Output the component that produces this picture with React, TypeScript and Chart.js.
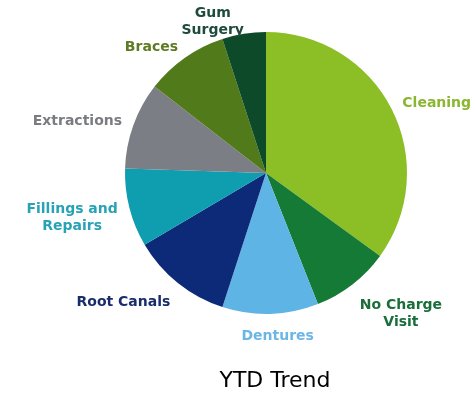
import React, { useEffect, useRef } from "react";
import { Chart, registerables } from "chart.js";

Chart.register(...registerables);

const categories = [
  "Cleaning",
  "No Charge\nVisit",
  "Dentures",
  "Root Canals",
  "Fillings and\nRepairs",
  "Extractions",
  "Braces",
  "Gum\nSurgery",
];
const values = [35, 9, 11, 11.5, 9, 10, 9.5, 5];
const sliceColors = [
  "#8cbf26",
  "#157a36",
  "#5fb4e6",
  "#0d2a78",
  "#0f9db0",
  "#7b7f85",
  "#517a1a",
  "#0d4a2a",
];
const labelColors = [
  "#8ab630",
  "#1a6e3a",
  "#6cb6e6",
  "#1a2d6b",
  "#27a3b5",
  "#7a7c80",
  "#5e7a23",
  "#1e4b3c",
];
const titleText = "YTD Trend";

const LABEL_FONT = 'bold 14px "DejaVu Sans"';
const LINE_H = 17;
const GAP = 12;

const outsideLabels = {
  id: "outsideLabels",
  afterDatasetsDraw(chart: any) {
    const ctx = chart.ctx;
    const meta = chart.getDatasetMeta(0);
    ctx.save();
    ctx.font = LABEL_FONT;
    ctx.textAlign = "center";
    ctx.textBaseline = "middle";
    meta.data.forEach((arc: any, i: number) => {
      const p = arc.getProps(["x", "y", "startAngle", "endAngle", "outerRadius"], true);
      const mid = (p.startAngle + p.endAngle) / 2;
      const ux = Math.cos(mid);
      const uy = Math.sin(mid);
      const ax = p.x + (p.outerRadius + GAP) * ux;
      const ay = p.y + (p.outerRadius + GAP) * uy;
      const lines = String(categories[i]).split("\n");
      const w = Math.max(...lines.map((l) => ctx.measureText(l).width));
      const h = lines.length * LINE_H;
      const fx = Math.max(-1, Math.min(1, ux * 6));
      const fy = uy > 0 ? Math.min(1.2, uy * 1.5) : 0;
      const cx = ax + (fx * w) / 2;
      const cy = ay + (fy * h) / 2;
      ctx.fillStyle = labelColors[i];
      lines.forEach((l, k) => {
        ctx.fillText(l, cx, cy - h / 2 + LINE_H / 2 + k * LINE_H);
      });
    });
    // title below the pie
    const area = chart.chartArea;
    ctx.font = '22px "DejaVu Sans"';
    ctx.fillStyle = "#000000";
    ctx.textAlign = "center";
    ctx.textBaseline = "middle";
    ctx.fillText(titleText, (area.left + area.right) / 2 + 9, area.bottom + 67);
    ctx.restore();
  },
};

export default function App() {
  const ref = useRef<HTMLCanvasElement | null>(null);
  useEffect(() => {
    document.body.style.margin = "0";
    const chart = new Chart(ref.current as HTMLCanvasElement, {
      type: "pie",
      data: {
        labels: categories,
        datasets: [
          {
            data: values,
            backgroundColor: sliceColors,
            borderWidth: 0,
          },
        ],
      },
      options: {
        responsive: false,
        animation: false,
        layout: { padding: { left: 125, right: 68, top: 32, bottom: 80 } },
        plugins: {
          legend: { display: false },
          tooltip: { enabled: false },
          title: { display: false },
        },
      },
      plugins: [outsideLabels],
    });
    return () => chart.destroy();
  }, []);
  return (
    <div style={{ width: 475, height: 394, background: "#ffffff" }}>
      <canvas ref={ref} width={475} height={394} />
    </div>
  );
}
